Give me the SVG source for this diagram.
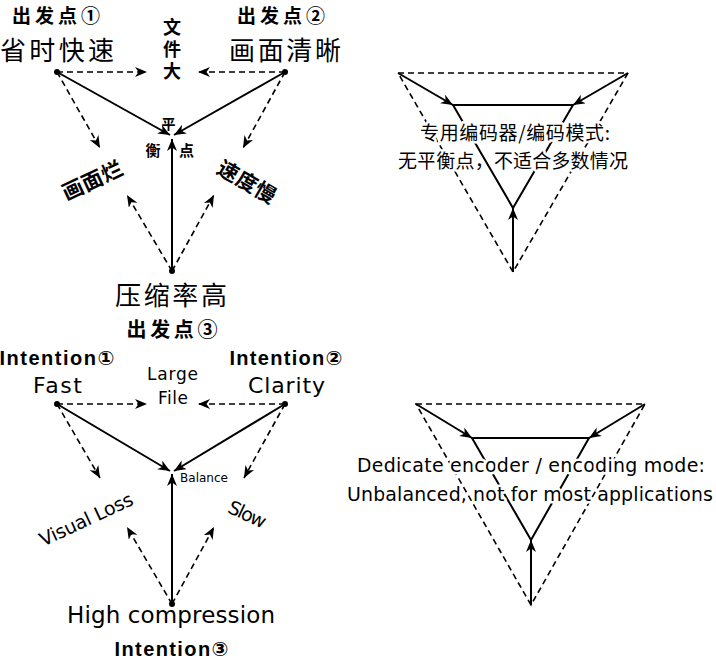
<svg xmlns="http://www.w3.org/2000/svg" width="716" height="659" viewBox="0 0 716 659">
<style>
.bg{fill:#fff}
.solid{stroke:#000;stroke-width:2;fill:none}
.dash{stroke:#000;stroke-width:1.6;stroke-dasharray:6 4;fill:none}
.dot{fill:#000}
.cn{font-family:"Noto Sans CJK SC","Liberation Sans",sans-serif;fill:#000}
.en{font-family:"DejaVu Sans","Liberation Sans","Noto Sans CJK SC",sans-serif;fill:#000}
.enb{font-family:"Liberation Sans","DejaVu Sans","Noto Sans CJK SC",sans-serif;font-weight:bold;fill:#000}
.b{font-weight:bold}
.mid{text-anchor:middle}
.halo{stroke:#fff;stroke-width:5;stroke-linejoin:round;paint-order:stroke}
</style>
<defs>
<marker id="ah" markerUnits="userSpaceOnUse" markerWidth="13" markerHeight="11" refX="12" refY="5" orient="auto" viewBox="0 0 13 11">
<path d="M0,0 L12,5 L0,10 L3.5,5 z" fill="#000" stroke="none"/>
</marker>
</defs>
<rect class="bg" x="0" y="0" width="716" height="659"/>

<g id="connectors">
<line class="dash" x1="57" y1="72" x2="147" y2="72" marker-end="url(#ah)"/>
<line class="dash" x1="285" y1="72" x2="198" y2="72" marker-end="url(#ah)"/>
<line class="solid" x1="57" y1="72" x2="170" y2="135" marker-end="url(#ah)"/>
<line class="solid" x1="285" y1="72" x2="174" y2="135" marker-end="url(#ah)"/>
<line class="solid" x1="172" y1="271" x2="172" y2="139" marker-end="url(#ah)"/>
<line class="dash" x1="57" y1="72" x2="100" y2="148" marker-end="url(#ah)"/>
<line class="dash" x1="285" y1="72" x2="243" y2="148" marker-end="url(#ah)"/>
<line class="dash" x1="172" y1="271" x2="127" y2="195" marker-end="url(#ah)"/>
<line class="dash" x1="172" y1="271" x2="214" y2="195" marker-end="url(#ah)"/>
<line class="dash" x1="57" y1="404" x2="147" y2="404" marker-end="url(#ah)"/>
<line class="dash" x1="285" y1="404" x2="198" y2="404" marker-end="url(#ah)"/>
<line class="solid" x1="57" y1="404" x2="170" y2="471" marker-end="url(#ah)"/>
<line class="solid" x1="285" y1="404" x2="174" y2="471" marker-end="url(#ah)"/>
<line class="solid" x1="172" y1="604" x2="172" y2="474" marker-end="url(#ah)"/>
<line class="dash" x1="57" y1="404" x2="100" y2="478" marker-end="url(#ah)"/>
<line class="dash" x1="285" y1="404" x2="244" y2="478" marker-end="url(#ah)"/>
<line class="dash" x1="172" y1="604" x2="127" y2="527" marker-end="url(#ah)"/>
<line class="dash" x1="172" y1="604" x2="214" y2="527" marker-end="url(#ah)"/>
<polygon class="dash" points="398,73 628,73 513,272"/>
<polygon class="solid" points="453,105 573,105 513,208"/>
<line class="solid" x1="398" y1="73" x2="453" y2="105" marker-end="url(#ah)"/>
<line class="solid" x1="628" y1="73" x2="573" y2="105" marker-end="url(#ah)"/>
<line class="solid" x1="513" y1="272" x2="513" y2="208" marker-end="url(#ah)"/>
<polygon class="dash" points="416,404 645,404 531,605"/>
<polygon class="solid" points="472,438 589,438 531,540"/>
<line class="solid" x1="416" y1="404" x2="472" y2="438" marker-end="url(#ah)"/>
<line class="solid" x1="645" y1="404" x2="589" y2="438" marker-end="url(#ah)"/>
<line class="solid" x1="531" y1="605" x2="531" y2="540" marker-end="url(#ah)"/>
</g>

<g id="dots">
<circle class="dot" cx="57" cy="72" r="3"/>
<circle class="dot" cx="285" cy="72" r="3"/>
<circle class="dot" cx="172" cy="271" r="3"/>
<circle class="dot" cx="57" cy="404" r="3"/>
<circle class="dot" cx="285" cy="404" r="3"/>
<circle class="dot" cx="172" cy="604" r="3"/>
</g>

<g id="node-fast-cn">
<text class="cn b mid" x="56" y="22.5" font-size="19" textLength="88">出发点①</text>
<text class="cn mid" x="57" y="60" font-size="26" textLength="114">省时快速</text>
</g>
<g id="node-clear-cn">
<text class="cn b mid" x="281" y="22.5" font-size="19" textLength="88">出发点②</text>
<text class="cn mid" x="285" y="60" font-size="26" textLength="112">画面清晰</text>
</g>
<g id="node-bigfile-cn">
<text class="cn b mid" x="172" y="51" font-size="18" writing-mode="tb" letter-spacing="4">文件大</text>
</g>
<g id="node-balance-cn">
<text class="cn b mid" x="168.5" y="129" font-size="14">平</text>
<text class="cn b mid" x="153" y="156" font-size="15">衡</text>
<text class="cn b mid" x="186.5" y="156" font-size="15">点</text>
</g>
<g id="node-loss-cn">
<text class="cn b mid" transform="translate(92.5,181) rotate(-25)" x="0" y="7" font-size="21" textLength="64">画面烂</text>
</g>
<g id="node-slow-cn">
<text class="cn b mid" transform="translate(246.5,182.5) rotate(30)" x="0" y="7" font-size="21" textLength="64">速度慢</text>
</g>
<g id="node-compress-cn">
<text class="cn mid" x="171" y="305" font-size="26" textLength="112">压缩率高</text>
<text class="cn b mid" x="172" y="337" font-size="20" textLength="91">出发点③</text>
</g>

<g id="node-fast-en">
<text class="enb mid" x="57" y="365" font-size="20" textLength="115">Intention①</text>
<text class="en mid" x="57.5" y="393" font-size="22" textLength="49">Fast</text>
</g>
<g id="node-clear-en">
<text class="enb mid" x="286" y="365" font-size="20" textLength="113">Intention②</text>
<text class="en mid" x="286.5" y="393" font-size="22" textLength="77">Clarity</text>
</g>
<g id="node-bigfile-en">
<text class="en mid" x="172.5" y="380" font-size="17" textLength="51">Large</text>
<text class="en mid" x="173" y="404" font-size="17" textLength="30">File</text>
</g>
<g id="node-balance-en">
<text class="en" x="180" y="482" font-size="12" textLength="48">Balance</text>
</g>
<g id="node-loss-en">
<text class="en mid" transform="translate(86,519) rotate(-25)" x="0" y="7" font-size="19" textLength="101">Visual Loss</text>
</g>
<g id="node-slow-en">
<text class="en mid" transform="translate(247.5,514) rotate(25)" x="0" y="7" font-size="19" textLength="40">Slow</text>
</g>
<g id="node-compress-en">
<text class="en mid" x="171" y="623" font-size="23" textLength="208">High compression</text>
<text class="enb mid" x="171.5" y="656" font-size="20" textLength="114">Intention③</text>
</g>

<g id="note-cn">
<text class="cn mid halo" x="515" y="140" font-size="19" textLength="190">专用编码器/编码模式:</text>
<text class="cn mid halo" x="513" y="168" font-size="19" textLength="230">无平衡点，不适合多数情况</text>
</g>
<g id="note-en">
<text class="en mid halo" x="531" y="472" font-size="19" textLength="348">Dedicate encoder / encoding mode:</text>
<text class="en mid halo" x="530" y="501" font-size="19" textLength="366">Unbalanced, not for most applications</text>
</g>
</svg>
